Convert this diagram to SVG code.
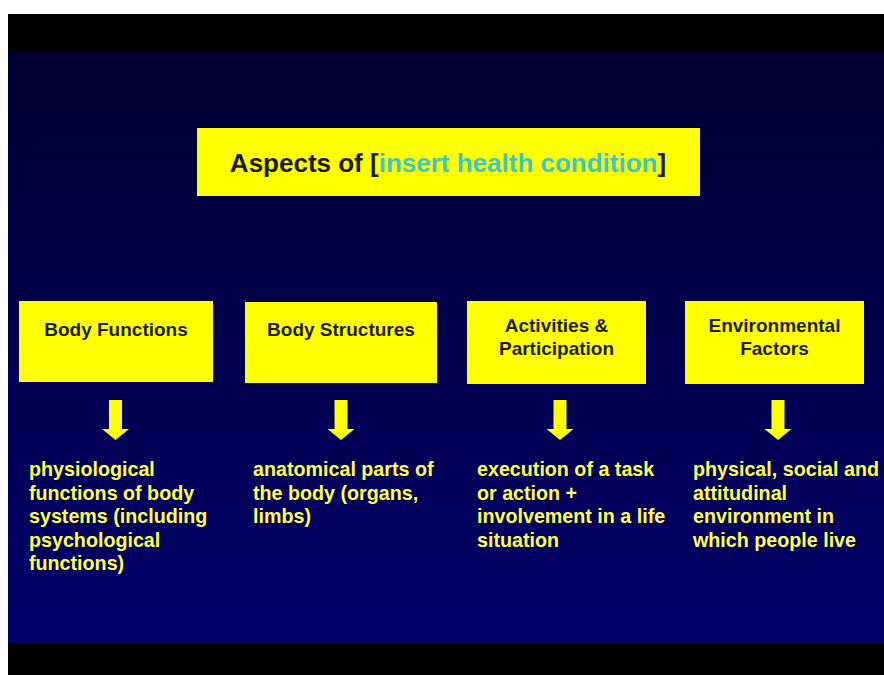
<svg xmlns="http://www.w3.org/2000/svg" width="884" height="675" viewBox="0 0 884 675">
  <defs>
    <linearGradient id="bg" x1="0" y1="0" x2="0" y2="1">
      <stop offset="0" stop-color="#000030"/>
      <stop offset="1" stop-color="#00006a"/>
    </linearGradient>
    <path id="arrow" d="M -6.5 400 L 6.5 400 L 6.5 429 L 13.5 429 L 0 440 L -13.5 429 L -6.5 429 Z"/>
  </defs>
  <style>
    .box { fill: #ffff00; }
    .lbl { font-family: "Liberation Sans", Arial, sans-serif; font-weight: bold; font-size: 19px; fill: #1e1e1e; text-anchor: middle; }
    .desc { font-family: "Liberation Sans", Arial, sans-serif; font-weight: bold; font-size: 19.7px; fill: #ffff44; }
    .title { font-family: "Liberation Sans", Arial, sans-serif; font-weight: bold; font-size: 26px; fill: #1a1a1a; text-anchor: middle; }
    .arr { fill: #ffff00; }
  </style>
  <rect x="0" y="0" width="884" height="675" fill="#ffffff"/>
  <rect x="8" y="14" width="876" height="661" fill="#000000"/>
  <rect x="8" y="51" width="876" height="592" fill="url(#bg)"/>

  <g id="title">
    <rect class="box" x="197" y="128" width="503" height="68"/>
    <text class="title" x="448" y="172">Aspects of [<tspan fill="#3cc8c8">insert health condition</tspan>]</text>
  </g>

  <g id="body-functions">
    <rect class="box" x="19" y="301" width="194" height="81"/>
    <text class="lbl" x="116" y="336">Body Functions</text>
  </g>
  <g id="body-structures">
    <rect class="box" x="245" y="302" width="192" height="81"/>
    <text class="lbl" x="341" y="336">Body Structures</text>
  </g>
  <g id="activities-participation">
    <rect class="box" x="467" y="301" width="179" height="83"/>
    <text class="lbl" x="556.5" y="332">Activities &amp;</text>
    <text class="lbl" x="556.5" y="355">Participation</text>
  </g>
  <g id="environmental-factors">
    <rect class="box" x="685" y="301" width="179" height="83"/>
    <text class="lbl" x="774.5" y="332">Environmental</text>
    <text class="lbl" x="774.5" y="355">Factors</text>
  </g>

  <g id="connectors">
    <use href="#arrow" class="arr" x="115.5"/>
    <use href="#arrow" class="arr" x="341"/>
    <use href="#arrow" class="arr" x="560"/>
    <use href="#arrow" class="arr" x="778"/>
  </g>

  <g id="desc-body-functions">
    <text class="desc" x="29" y="476">physiological</text>
    <text class="desc" x="29" y="499.5">functions of body</text>
    <text class="desc" x="29" y="523">systems (including</text>
    <text class="desc" x="29" y="546.5">psychological</text>
    <text class="desc" x="29" y="570">functions)</text>
  </g>
  <g id="desc-body-structures">
    <text class="desc" x="253" y="476">anatomical parts of</text>
    <text class="desc" x="253" y="499.5">the body (organs,</text>
    <text class="desc" x="253" y="523">limbs)</text>
  </g>
  <g id="desc-activities">
    <text class="desc" x="477" y="476">execution of a task</text>
    <text class="desc" x="477" y="499.5">or action +</text>
    <text class="desc" x="477" y="523">involvement in a life</text>
    <text class="desc" x="477" y="546.5">situation</text>
  </g>
  <g id="desc-environmental">
    <text class="desc" x="693" y="476">physical, social and</text>
    <text class="desc" x="693" y="499.5">attitudinal</text>
    <text class="desc" x="693" y="523">environment in</text>
    <text class="desc" x="693" y="546.5">which people live</text>
  </g>
</svg>
